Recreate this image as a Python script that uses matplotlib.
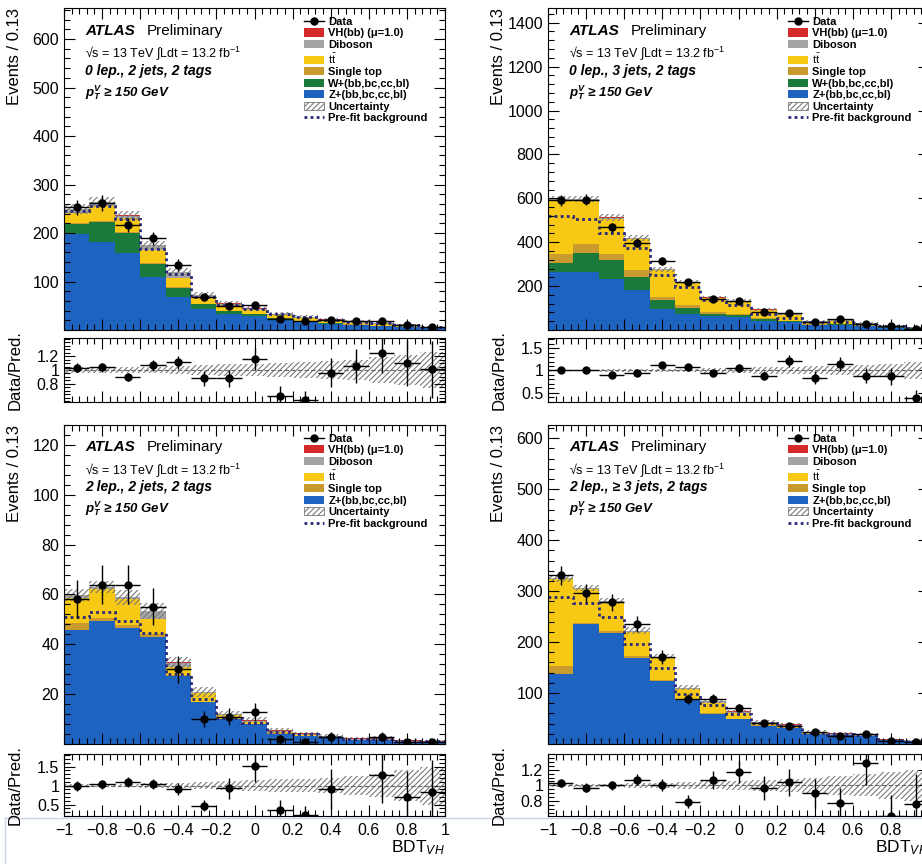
import numpy as np
import matplotlib
matplotlib.use("Agg")
import matplotlib.pyplot as plt
from matplotlib.ticker import MultipleLocator, FixedLocator, NullFormatter
from matplotlib.patches import Patch
from matplotlib.lines import Line2D

plt.rcParams['font.family'] = ['Liberation Sans', 'DejaVu Sans']
plt.rcParams['mathtext.fontset'] = 'custom'
plt.rcParams['mathtext.rm'] = 'Liberation Sans'
plt.rcParams['mathtext.it'] = 'Liberation Sans:italic'
plt.rcParams['mathtext.bf'] = 'Liberation Sans:bold:italic'
plt.rcParams['hatch.linewidth'] = 0.8
plt.rcParams['hatch.color'] = '#7a7a7a'

# BDT_VH binning: 15 bins between -1 and 1
edges = np.linspace(-1, 1, 16)

# ---- 0 lepton, 2 jets, 2 tags ----
tl_z = [198, 182, 159, 110, 68, 44, 34, 29, 22, 17, 13, 10, 8, 6, 3.5]
tl_w = [20, 40, 40, 26, 18, 9, 5, 3, 2, 1.5, 1.2, 1, 0.8, 0.5, 0.3]
tl_st = [3, 3, 3, 2, 2, 1.5, 1, 1, 1, 0.8, 0.6, 0.5, 0.4, 0.3, 0.2]
tl_tt = [20, 30, 28, 27, 19, 13, 11, 8, 5, 5, 4, 3, 2.5, 1.5, 1]
tl_db = [8, 8, 6, 10, 12, 4, 3, 3, 2.5, 2.5, 2.5, 2.5, 2, 1.5, 1]
tl_vh = [0.3, 0.4, 0.5, 0.6, 0.8, 0.8, 0.8, 1, 1, 1, 1.2, 1.2, 1.2, 1, 0.8]
tl_data = [253, 262, 216, 189, 134, 68, 49, 51, 22, 18, 21, 19, 18, 11, 6]
tl_ratio = [1.03, 1.04, 0.90, 1.07, 1.11, 0.88, 0.88, 1.16, 0.63, 0.57, 0.96, 1.06, 1.25, 1.10, 1.01]
tl_prefit = [245, 255, 228, 168, 115, 68, 52, 43, 32, 26, 21, 17, 14, 10, 6.5]
tl_unc = [0.04, 0.04, 0.04, 0.05, 0.06, 0.07, 0.08, 0.09, 0.1, 0.12, 0.13, 0.15, 0.18, 0.22, 0.26]

# ---- 0 lepton, 3 jets, 2 tags ----
tr_z = [264, 264, 234, 180, 97, 74, 62, 58, 43, 35, 22, 24, 16, 10, 6]
tr_w = [43, 88, 86, 61, 38, 27, 12, 10, 6, 5, 3, 3, 2, 1.5, 1]
tr_st = [41, 41, 28, 31, 15, 11, 7, 5, 4, 3, 2, 2, 1.5, 1, 0.7]
tr_tt = [243, 198, 159, 143, 122, 103, 64, 54, 36, 26, 11, 14, 9, 5, 3]
tr_db = [6, 5, 5, 4, 4, 4, 3, 4, 3, 3, 2, 2.5, 2, 1.5, 1.5]
tr_vh = [0.5, 0.6, 0.7, 0.8, 1, 1, 1.2, 1.3, 1.4, 1.5, 1.5, 1.5, 1.5, 1.2, 1]
tr_data = [590, 593, 467, 398, 313, 218, 139, 133, 81, 78, 36, 51, 28, 20, 5]
tr_ratio = [1.02, 1.02, 0.90, 0.94, 1.13, 1.07, 0.94, 1.05, 0.88, 1.22, 0.84, 1.15, 0.88, 0.87, 0.38]
tr_prefit = [518, 505, 444, 375, 249, 196, 135, 112, 74, 56, 35, 38, 26, 17, 10]
tr_unc = [0.02, 0.02, 0.03, 0.03, 0.04, 0.04, 0.05, 0.06, 0.07, 0.08, 0.09, 0.1, 0.12, 0.15, 0.2]

# ---- 2 lepton, 2 jets, 2 tags ----
bl_z = [45.7, 49.3, 46.4, 43, 27.3, 16.7, 10, 8, 4.2, 3.2, 2.4, 1.6, 1.6, 0.8, 0.6]
bl_st = [2.7, 1.4, 1.3, 1.3, 0.5, 0.3, 0.2, 0.1, 0.05, 0.05, 0.05, 0.05, 0.05, 0.02, 0.02]
bl_tt = [10.3, 11.3, 10.3, 6, 2.9, 3.3, 1.4, 0.7, 0.4, 0.3, 0.2, 0.1, 0.1, 0.1, 0.05]
bl_db = [0.9, 1, 0.8, 3, 2, 0.5, 0.3, 0.6, 0.6, 0.5, 0.4, 0.4, 0.4, 0.3, 0.3]
bl_vh = [0.05, 0.05, 0.05, 0.1, 0.1, 0.1, 0.1, 0.2, 0.2, 0.2, 0.25, 0.25, 0.25, 0.2, 0.2]
bl_data = [58, 64, 64, 55, 30, 10, 11, 13, 2, 1, 3, 0, 3, 1, 1]
bl_ratio = [0.99, 1.03, 1.10, 1.04, 0.91, 0.47, 0.93, 1.52, 0.37, 0.23, 0.91, np.nan, 1.28, 0.69, 0.83]
bl_prefit = [51, 53, 49.3, 44.7, 28, 18, 10.5, 8.5, 5, 4, 3, 2.2, 2.2, 1.3, 1.1]
bl_unc = [0.04, 0.04, 0.05, 0.06, 0.07, 0.09, 0.11, 0.14, 0.16, 0.18, 0.2, 0.24, 0.3, 0.4, 0.5]

# ---- 2 lepton, >=3 jets, 2 tags ----
br_z = [138, 235, 218, 169, 123, 87, 59, 49, 36, 31, 20, 17, 15, 7, 5]
br_st = [16, 3, 3, 3, 2, 1, 1, 1, 0.5, 0.5, 0.3, 0.3, 0.2, 0.1, 0.1]
br_tt = [169, 66, 57, 48, 44, 20, 20, 11, 5, 4, 1.5, 1.2, 1, 0.6, 0.4]
br_db = [2, 2, 2, 2, 2, 2, 4, 2, 1.5, 2, 1.5, 1.5, 1.5, 0.8, 0.8]
br_vh = [0.2, 0.3, 0.3, 0.4, 0.5, 0.6, 0.7, 0.8, 0.9, 1, 0.9, 0.9, 0.9, 0.6, 0.5]
br_data = [331, 296, 278, 235, 171, 88, 89, 71, 41, 36, 23, 16, 20, 5, 4]
br_ratio = [1.03, 0.97, 1.0, 1.07, 1.01, 0.79, 1.07, 1.17, 0.97, 1.04, 0.90, 0.77, 1.29, 0.61, 0.76]
br_prefit = [288, 276, 250, 197, 149, 99, 77, 58, 41, 35, 22, 19, 17, 8.5, 6.5]
br_unc = [0.02, 0.02, 0.02, 0.03, 0.03, 0.04, 0.05, 0.06, 0.07, 0.08, 0.1, 0.12, 0.14, 0.17, 0.2]

c_z = '#1f63c0'
c_w = '#1a7a3c'
c_st = '#c99a2e'
c_tt = '#f7c915'
c_db = '#a4a4a4'
c_vh = '#d42a2a'
c_pre = '#26267a'
c_hatch = '#7a7a7a'


def style_ticks(ax):
    ax.tick_params(which='both', direction='in', top=True, right=True,
                   labelsize=11.5, width=0.8)
    ax.tick_params(which='major', length=8)
    ax.tick_params(which='minor', length=4)
    ax.xaxis.set_major_locator(MultipleLocator(0.2))
    ax.xaxis.set_minor_locator(MultipleLocator(0.04))
    ax.set_xlim(-1, 1)


def draw(ax, rax, stack, data, ratio, prefit, unc, ymax, ymajor, yminor,
         rlim, rticks, rminor, region, with_w):
    base = np.zeros(15)
    for vals, col in stack:
        top = base + np.array(vals)
        ax.stairs(top, edges, baseline=base, fill=True, color=col, lw=0)
        base = top
    total = base
    unc = np.array(unc)
    ax.stairs(total * (1 + unc), edges, baseline=total * (1 - unc), fill=True,
              facecolor='none', edgecolor=c_hatch, hatch='//////', lw=0)
    ax.stairs(prefit, edges, baseline=None, color=c_pre, lw=2,
              ls=(0, (1, 1.2)))

    centers = 0.5 * (edges[1:] + edges[:-1])
    half = 0.5 * (edges[1] - edges[0])
    data = np.array(data, float)
    m = data > 0
    ax.errorbar(centers[m], data[m], xerr=half, yerr=np.sqrt(data[m]), fmt='o',
                color='k', ms=5, elinewidth=1, capsize=0, zorder=5)

    style_ticks(ax)
    ax.set_ylim(0, ymax)
    ax.yaxis.set_major_locator(FixedLocator(np.arange(ymajor, ymax, ymajor)))
    ax.yaxis.set_minor_locator(MultipleLocator(yminor))
    ax.xaxis.set_major_formatter(NullFormatter())
    ax.set_ylabel('Events / 0.13', fontsize=12, loc='top')
    ax.yaxis.set_label_coords(-0.11, 1.0)

    ax.text(0.055, 0.93, 'ATLAS', transform=ax.transAxes, fontsize=11,
            fontweight='bold', fontstyle='italic', va='center')
    ax.text(0.217, 0.93, 'Preliminary', transform=ax.transAxes, fontsize=11,
            va='center')
    ax.text(0.055, 0.86, '√s = 13 TeV ∫Ldt = 13.2 fb$^{-1}$',
            transform=ax.transAxes, fontsize=9, va='center',
            family=['Liberation Sans', 'DejaVu Sans'])
    ax.text(0.055, 0.805, region, transform=ax.transAxes, fontsize=10,
            fontweight='bold', fontstyle='italic', va='center')
    ax.text(0.055, 0.738, r'$\mathbf{p}_{\mathbf{T}}^{\mathbf{V}}$ ≥ 150 GeV',
            transform=ax.transAxes, fontsize=9.5, fontweight='bold',
            fontstyle='italic', va='center')

    handles = [Line2D([], [], color='k', marker='o', ms=5, lw=1),
               Patch(fc=c_vh), Patch(fc=c_db), Patch(fc=c_tt), Patch(fc=c_st)]
    labels = ['Data', 'VH(bb) (μ=1.0)', 'Diboson', r'$\mathrm{t}\bar{\mathrm{t}}$',
              'Single top']
    if with_w:
        handles.append(Patch(fc=c_w))
        labels.append('W+(bb,bc,cc,bl)')
    handles += [Patch(fc=c_z),
                Patch(fc='none', ec=c_hatch, hatch='//////', lw=0.6),
                Line2D([], [], color=c_pre, lw=2, ls=(0, (1, 1.2)))]
    labels += ['Z+(bb,bc,cc,bl)', 'Uncertainty', 'Pre-fit background']
    ax.legend(handles, labels, loc='upper left', bbox_to_anchor=(0.615, 0.99),
              frameon=False, borderpad=0, labelspacing=0.14, handlelength=1.8,
              handleheight=0.75, handletextpad=0.4,
              prop={'size': 8.0, 'weight': 'bold'})

    # ratio panel
    rax.stairs(1 + unc, edges, baseline=1 - unc, fill=True, facecolor='none',
               edgecolor=c_hatch, hatch='//////', lw=0)
    rax.axhline(1, color='#666666', lw=0.8, ls=(0, (4, 2)))
    ratio = np.array(ratio, float)
    rm = m & ~np.isnan(ratio)
    rax.errorbar(centers[rm], ratio[rm], xerr=half,
                 yerr=ratio[rm] / np.sqrt(data[rm]), fmt='o', color='k', ms=5,
                 elinewidth=1, capsize=0, zorder=5)
    style_ticks(rax)
    rax.set_ylim(*rlim)
    rax.yaxis.set_major_locator(FixedLocator(rticks))
    rax.yaxis.set_minor_locator(MultipleLocator(rminor))
    rax.set_yticklabels([f'{t:g}' for t in rticks])
    rax.set_ylabel('Data/Pred.', fontsize=12)
    rax.yaxis.set_label_coords(-0.108, 0.5)


fig = plt.figure(figsize=(9.22, 8.64), dpi=100)

W = 381 / 922
ax_tl = fig.add_axes([64 / 922, 1 - 330 / 864, W, 322 / 864])
rx_tl = fig.add_axes([64 / 922, 1 - 402 / 864, W, 64 / 864])
ax_tr = fig.add_axes([548 / 922, 1 - 330 / 864, W, 322 / 864])
rx_tr = fig.add_axes([548 / 922, 1 - 402 / 864, W, 64 / 864])
ax_bl = fig.add_axes([64 / 922, 1 - 744 / 864, W, 319 / 864])
rx_bl = fig.add_axes([64 / 922, 1 - 816 / 864, W, 62 / 864])
ax_br = fig.add_axes([548 / 922, 1 - 744 / 864, W, 319 / 864])
rx_br = fig.add_axes([548 / 922, 1 - 816 / 864, W, 62 / 864])

draw(ax_tl, rx_tl,
     [(tl_z, c_z), (tl_w, c_w), (tl_st, c_st), (tl_tt, c_tt), (tl_db, c_db), (tl_vh, c_vh)],
     tl_data, tl_ratio, tl_prefit, tl_unc, 664, 100, 20,
     (0.54, 1.46), [0.8, 1, 1.2], 0.05, '0 lep., 2 jets, 2 tags', True)
draw(ax_tr, rx_tr,
     [(tr_z, c_z), (tr_w, c_w), (tr_st, c_st), (tr_tt, c_tt), (tr_db, c_db), (tr_vh, c_vh)],
     tr_data, tr_ratio, tr_prefit, tr_unc, 1467, 200, 40,
     (0.29, 1.73), [0.5, 1, 1.5], 0.1, '0 lep., 3 jets, 2 tags', True)
draw(ax_bl, rx_bl,
     [(bl_z, c_z), (bl_st, c_st), (bl_tt, c_tt), (bl_db, c_db), (bl_vh, c_vh)],
     bl_data, bl_ratio, bl_prefit, bl_unc, 128, 20, 4,
     (0.2, 1.83), [0.5, 1, 1.5], 0.1, '2 lep., 2 jets, 2 tags', False)
draw(ax_br, rx_br,
     [(br_z, c_z), (br_st, c_st), (br_tt, c_tt), (br_db, c_db), (br_vh, c_vh)],
     br_data, br_ratio, br_prefit, br_unc, 626, 100, 20,
     (0.61, 1.40), [0.8, 1, 1.2], 0.05, '2 lep., ≥ 3 jets, 2 tags', False)

for r in (rx_tl, rx_tr):
    r.xaxis.set_major_formatter(NullFormatter())
for r in (rx_bl, rx_br):
    r.set_xticks(np.arange(-1, 1.01, 0.2))
    r.set_xticklabels(['−1', '−0.8', '−0.6', '−0.4', '−0.2', '0', '0.2',
                       '0.4', '0.6', '0.8', '1'])
    r.tick_params(axis='x', pad=5)
    r.set_xlabel(r'BDT$_{\mathit{VH}}$', fontsize=12.5, loc='right', labelpad=0)

# thin screenshot border lines below the bottom panels
fig.add_artist(Line2D([5 / 922, 1], [1 - 817.5 / 864] * 2, color='#c9d6e4',
                      lw=1, zorder=0))
fig.add_artist(Line2D([5 / 922] * 2, [0, 1 - 817.5 / 864], color='#c9d6e4',
                      lw=1, zorder=0))

fig.savefig('out.png', dpi=100)
